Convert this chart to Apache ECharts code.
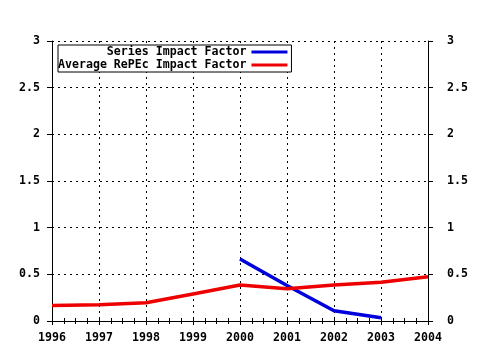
<!DOCTYPE html>
<html><head><meta charset="utf-8">
<script src="https://cdn.jsdelivr.net/npm/echarts@6/dist/echarts.min.js"></script>
<style>html,body{margin:0;padding:0;background:#fff}#c{width:480px;height:350px}</style>
</head><body><div id="c"></div>
<script>
const years = [1996, 1997, 1998, 1999, 2000, 2001, 2002, 2003, 2004];
const seriesIF = [null, null, null, null, 0.665, 0.38, 0.11, 0.035, null];
const avgIF = [0.165, 0.175, 0.195, 0.29, 0.385, 0.345, 0.385, 0.415, 0.475];
const yTicks = [0, 0.5, 1, 1.5, 2, 2.5, 3];
const names = ['Series Impact Factor', 'Average RePEc Impact Factor'];

const font = {fontFamily: 'DejaVu Sans Mono', fontWeight: 'bold', fontSize: 11.6, color: '#000'};
const maxLen = Math.max(...names.map(n => n.length));
const chart = echarts.init(document.getElementById('c'));
const xBase = {
  type: 'value', min: years[0], max: years[years.length - 1], interval: 1,
  axisLine: {lineStyle: {color: '#000', width: 1}},
  splitLine: {show: false}
};
const yBase = {
  type: 'value', min: yTicks[0], max: yTicks[yTicks.length - 1], interval: 0.5,
  axisLine: {show: true, lineStyle: {color: '#000', width: 1}},
  splitLine: {show: false}
};
chart.setOption({
  animation: false,
  backgroundColor: '#fff',
  grid: {left: 52, right: 52, top: 41, bottom: 29},
  legend: {
    orient: 'vertical', left: 58, top: 45, align: 'right',
    data: names,
    formatter: n => ' '.repeat(maxLen - n.length) + n,
    itemWidth: 36, itemHeight: 3, itemGap: 1,
    icon: 'rect',
    borderColor: '#000', borderWidth: 1, padding: [1, 4, 1, 0],
    backgroundColor: '#fff',
    textStyle: Object.assign({}, font, {padding: [0, 0, 0, 0]})
  },
  xAxis: [
    Object.assign({}, xBase, {position: 'bottom',
      axisTick: {show: true, length: 4, lineStyle: {color: '#000'}},
      minorTick: {show: true, splitNumber: 4, length: 3, lineStyle: {color: '#000'}},
      axisLabel: Object.assign({}, font, {margin: 11, formatter: v => String(v)}),
      splitLine: {show: true, lineStyle: {color: '#000', type: [2, 4], width: 1}}
    }),
    Object.assign({}, xBase, {position: 'top',
      axisTick: {show: true, length: 4, lineStyle: {color: '#000'}},
      minorTick: {show: true, splitNumber: 4, length: 3, lineStyle: {color: '#000'}},
      axisLabel: {show: false}
    })
  ],
  yAxis: [
    Object.assign({}, yBase, {position: 'left',
      axisTick: {show: true, length: 5, lineStyle: {color: '#000'}},
      axisLabel: Object.assign({}, font, {margin: 12, formatter: v => String(v)}),
      splitLine: {show: true, lineStyle: {color: '#000', type: [2, 4], width: 1}}
    }),
    Object.assign({}, yBase, {position: 'right',
      axisTick: {show: true, length: 5, lineStyle: {color: '#000'}},
      axisLabel: Object.assign({}, font, {margin: 19, formatter: v => String(v)})
    })
  ],
  series: [
    {name: names[0], type: 'line', xAxisIndex: 0, yAxisIndex: 0,
     data: years.map((y, i) => [y, seriesIF[i]]), showSymbol: false,
     lineStyle: {color: '#0000dd', width: 3.5}, itemStyle: {color: '#0000dd'}},
    {name: names[1], type: 'line', xAxisIndex: 0, yAxisIndex: 0,
     data: years.map((y, i) => [y, avgIF[i]]), showSymbol: false,
     lineStyle: {color: '#ee0000', width: 3.5}, itemStyle: {color: '#ee0000'}}
  ]
});
</script></body></html>
